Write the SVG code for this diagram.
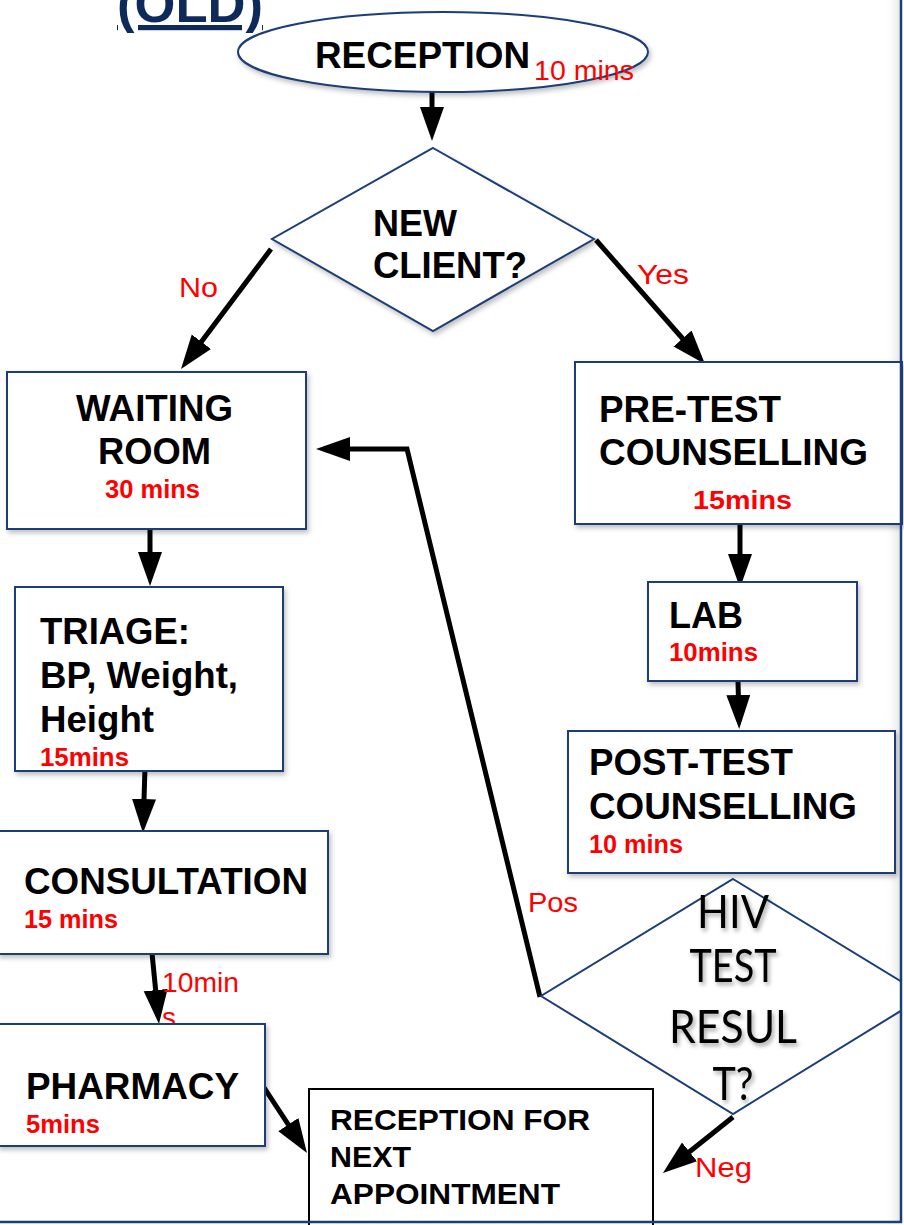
<svg xmlns="http://www.w3.org/2000/svg" width="904" height="1225" viewBox="0 0 904 1225">
  <style>
    .box { fill: #ffffff; stroke: #1b3d78; stroke-width: 2; }
    .plain { fill: #ffffff; stroke: #000000; stroke-width: 2; }
    .lbl { font-family: "Liberation Sans", Arial, sans-serif; font-weight: bold; font-size: 36px; fill: #000000; }
    .lbl-sm { font-family: "Liberation Sans", Arial, sans-serif; font-weight: bold; font-size: 30px; fill: #000000; }
    .time { font-family: "Liberation Sans", Arial, sans-serif; font-weight: bold; font-size: 26px; fill: #ff0000; }
    .note { font-family: "Liberation Sans", Arial, sans-serif; font-size: 28px; fill: #ff0000; }
    .hiv { font-family: Lato, "Open Sans", sans-serif; font-size: 46px; fill: #000000; text-anchor: middle; }
    .edge { fill: none; stroke: #000000; stroke-width: 5; stroke-linejoin: miter; }
  </style>
  <defs>
    <marker id="head" markerUnits="userSpaceOnUse" markerWidth="36" markerHeight="26" refX="26" refY="12" orient="auto">
      <path d="M0,0 L34,12 L0,24 z" fill="#000000"/>
    </marker>
    <filter id="shadow" x="-10%" y="-10%" width="125%" height="130%">
      <feDropShadow dx="2" dy="3" stdDeviation="2.5" flood-color="#000000" flood-opacity="0.25"/>
    </filter>
    <filter id="textShadow" x="-20%" y="-20%" width="140%" height="150%">
      <feDropShadow dx="2" dy="3" stdDeviation="2" flood-color="#000000" flood-opacity="0.35"/>
    </filter>
    <linearGradient id="edgeShade" x1="0" y1="0" x2="1" y2="0">
      <stop offset="0" stop-color="#ffffff" stop-opacity="0"/>
      <stop offset="1" stop-color="#e4e4e4"/>
    </linearGradient>
    <clipPath id="frameClip">
      <rect x="0" y="0" width="901" height="1222"/>
    </clipPath>
  </defs>

  <rect x="0" y="0" width="904" height="1225" fill="#ffffff"/>
  <rect x="884" y="0" width="17" height="1222" fill="url(#edgeShade)"/>

  <!-- heading, cut by the top edge -->
  <text x="117" y="22" font-family="Liberation Sans, Arial, sans-serif" font-weight="bold" font-size="52" fill="#0d2a5a" text-decoration="underline" textLength="146" lengthAdjust="spacingAndGlyphs">(OLD)</text>

  <!-- connectors -->
  <g id="connectors">
    <path class="edge" marker-end="url(#head)" d="M432,92 L432,133"/>
    <path class="edge" marker-end="url(#head)" d="M271,249 L185.8,362.6"/>
    <path class="edge" marker-end="url(#head)" d="M596,240 L699.7,358"/>
    <path class="edge" marker-end="url(#head)" d="M150,529 L150,578"/>
    <path class="edge" marker-end="url(#head)" d="M145,768 L143.2,825"/>
    <path class="edge" marker-end="url(#head)" d="M152,953 L158.2,1016"/>
    <path class="edge" marker-end="url(#head)" d="M263,1086 L302.6,1146.3"/>
    <path class="edge" marker-end="url(#head)" d="M740,524 L740,580"/>
    <path class="edge" marker-end="url(#head)" d="M738,681 L739,721"/>
    <path class="edge" marker-end="url(#head)" d="M540,997 L407,449 L324,449"/>
    <path class="edge" marker-end="url(#head)" d="M733,1117 L669.2,1168"/>
    <text class="note" x="179" y="297" textLength="39" lengthAdjust="spacingAndGlyphs">No</text>
    <text class="note" x="637" y="284" textLength="52" lengthAdjust="spacingAndGlyphs">Yes</text>
    <text class="note" x="528" y="912" textLength="50" lengthAdjust="spacingAndGlyphs">Pos</text>
    <text class="note" x="695" y="1177" textLength="57" lengthAdjust="spacingAndGlyphs">Neg</text>
    <text class="note" x="162" y="992" textLength="77" lengthAdjust="spacingAndGlyphs">10min</text>
    <text class="note" x="162" y="1027">s</text>
  </g>

  <!-- nodes -->
  <g id="reception">
    <ellipse class="box" cx="443" cy="52" rx="205" ry="40" filter="url(#shadow)"/>
    <text class="lbl" x="315" y="68" textLength="215" lengthAdjust="spacingAndGlyphs">RECEPTION</text>
    <text class="note" x="534" y="80" textLength="100" lengthAdjust="spacingAndGlyphs">10 mins</text>
  </g>

  <g id="new-client">
    <polygon class="box" points="433,148 594,239 433,331 272,239" filter="url(#shadow)"/>
    <text class="lbl" x="373" y="236" textLength="84" lengthAdjust="spacingAndGlyphs">NEW</text>
    <text class="lbl" x="373" y="278" textLength="154" lengthAdjust="spacingAndGlyphs">CLIENT?</text>
  </g>

  <g id="waiting-room">
    <rect class="box" x="7" y="372" width="299" height="157" filter="url(#shadow)"/>
    <text class="lbl" x="76" y="421" textLength="157" lengthAdjust="spacingAndGlyphs">WAITING</text>
    <text class="lbl" x="98" y="464" textLength="113" lengthAdjust="spacingAndGlyphs">ROOM</text>
    <text class="time" x="105" y="498" textLength="95" lengthAdjust="spacingAndGlyphs">30 mins</text>
  </g>

  <g id="triage">
    <rect class="box" x="15" y="587" width="268" height="184" filter="url(#shadow)"/>
    <text class="lbl" x="40" y="644" textLength="150" lengthAdjust="spacingAndGlyphs">TRIAGE:</text>
    <text class="lbl" x="40" y="688" textLength="198" lengthAdjust="spacingAndGlyphs">BP, Weight,</text>
    <text class="lbl" x="40" y="732" textLength="114" lengthAdjust="spacingAndGlyphs">Height</text>
    <text class="time" x="40" y="766" textLength="89" lengthAdjust="spacingAndGlyphs">15mins</text>
  </g>

  <g id="consultation">
    <rect class="box" x="-2" y="831" width="330" height="123" filter="url(#shadow)"/>
    <text class="lbl" x="24" y="894" textLength="284" lengthAdjust="spacingAndGlyphs">CONSULTATION</text>
    <text class="time" x="24" y="928" textLength="94" lengthAdjust="spacingAndGlyphs">15 mins</text>
  </g>

  <g id="pharmacy">
    <rect class="box" x="-2" y="1024" width="267" height="122" filter="url(#shadow)"/>
    <text class="lbl" x="26" y="1099" textLength="213" lengthAdjust="spacingAndGlyphs">PHARMACY</text>
    <text class="time" x="26" y="1133" textLength="74" lengthAdjust="spacingAndGlyphs">5mins</text>
  </g>

  <g id="reception-next">
    <rect class="plain" x="309" y="1089" width="344" height="145"/>
    <text class="lbl-sm" x="330" y="1130" textLength="260" lengthAdjust="spacingAndGlyphs">RECEPTION FOR</text>
    <text class="lbl-sm" x="330" y="1167" textLength="81" lengthAdjust="spacingAndGlyphs">NEXT</text>
    <text class="lbl-sm" x="330" y="1204" textLength="230" lengthAdjust="spacingAndGlyphs">APPOINTMENT</text>
  </g>

  <g id="pre-test">
    <rect class="box" x="575" y="362" width="327" height="162" filter="url(#shadow)"/>
    <text class="lbl" x="599" y="422" textLength="182" lengthAdjust="spacingAndGlyphs">PRE-TEST</text>
    <text class="lbl" x="599" y="465" textLength="269" lengthAdjust="spacingAndGlyphs">COUNSELLING</text>
    <text class="time" x="693" y="509" textLength="99" lengthAdjust="spacingAndGlyphs">15mins</text>
  </g>

  <g id="lab">
    <rect class="box" x="648" y="582" width="209" height="99" filter="url(#shadow)"/>
    <text class="lbl" x="669" y="628" textLength="74" lengthAdjust="spacingAndGlyphs">LAB</text>
    <text class="time" x="669" y="661" textLength="89" lengthAdjust="spacingAndGlyphs">10mins</text>
  </g>

  <g id="post-test">
    <rect class="box" x="568" y="731" width="327" height="142" filter="url(#shadow)"/>
    <text class="lbl" x="589" y="775" textLength="204" lengthAdjust="spacingAndGlyphs">POST-TEST</text>
    <text class="lbl" x="589" y="819" textLength="268" lengthAdjust="spacingAndGlyphs">COUNSELLING</text>
    <text class="time" x="589" y="853" textLength="94" lengthAdjust="spacingAndGlyphs">10 mins</text>
  </g>

  <g id="hiv-result">
    <polygon class="box" clip-path="url(#frameClip)" points="733,879 925,996 733,1114 541,996"/>
    <g filter="url(#textShadow)">
      <text class="hiv" x="733" y="928" textLength="72" lengthAdjust="spacingAndGlyphs">HIV</text>
      <text class="hiv" x="733" y="982" textLength="87" lengthAdjust="spacingAndGlyphs">TEST</text>
      <text class="hiv" x="733" y="1043" textLength="128" lengthAdjust="spacingAndGlyphs">RESUL</text>
      <text class="hiv" x="733" y="1100" textLength="41" lengthAdjust="spacingAndGlyphs">T?</text>
    </g>
  </g>

  <!-- slide frame -->
  <path d="M901,0 L901,1222 L0,1222" fill="none" stroke="#1b3d78" stroke-width="2.5"/>
</svg>
